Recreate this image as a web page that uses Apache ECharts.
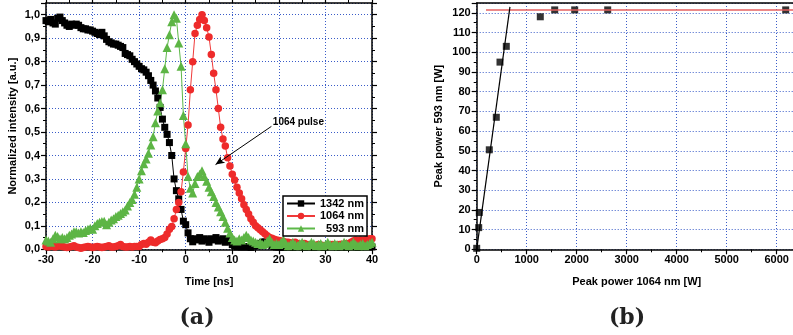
<!DOCTYPE html>
<html><head><meta charset="utf-8">
<script src="https://cdn.jsdelivr.net/npm/echarts@6/dist/echarts.min.js"></script>
<style>html,body{margin:0;padding:0;background:#fff}#c{width:793px;height:335px}</style>
</head><body><div id="c"></div>
<script>
// ---- Panel (a): normalized intensity vs time ----
const time = [-30,-29.5,-29,-28.5,-28,-27.5,-27,-26.5,-26,-25.5,-25,-24.5,-24,-23.5,-23,-22.5,-22,-21.5,-21,-20.5,-20,-19.5,-19,-18.5,-18,-17.5,-17,-16.5,-16,-15.5,-15,-14.5,-14,-13.5,-13,-12.5,-12,-11.5,-11,-10.5,-10,-9.5,-9,-8.5,-8,-7.5,-7,-6.5,-6,-5.5,-5,-4.5,-4,-3.5,-3,-2.5,-2,-1.5,-1,-0.5,0,0.5,1,1.5,2,2.5,3,3.5,4,4.5,5,5.5,6,6.5,7,7.5,8,8.5,9,9.5,10,10.5,11,11.5,12,12.5,13,13.5,14,14.5,15,15.5,16,16.5,17,17.5,18,18.5,19,19.5,20,20.5,21,21.5,22,22.5,23,23.5,24,24.5,25,25.5,26,26.5,27,27.5,28,28.5,29,29.5,30,30.5,31,31.5,32,32.5,33,33.5,34,34.5,35,35.5,36,36.5,37,37.5,38,38.5,39,39.5,40];

const black1342 = [0.975,0.97,0.98,0.965,0.96,0.985,0.99,0.975,0.965,0.955,
0.95,0.96,0.955,0.96,0.955,0.945,0.94,0.94,0.935,0.935,
0.93,0.925,0.92,0.915,0.925,0.91,0.895,0.885,0.88,0.875,
0.875,0.87,0.865,0.86,0.835,0.83,0.825,0.81,0.8,0.79,
0.78,
0.77,0.765,0.755,0.74,0.72,0.7,0.675,0.645,0.605,0.555,0.52,0.49,0.455,0.40,0.30,0.25,0.215,0.17,0.12,0.105,
0.07,0.045,0.032,0.045,0.04,0.05,0.035,0.045,0.04,0.03,0.045,0.04,0.05,0.035,0.04,0.045,0.03,0.04,0.035,0.02,
0.015,0.01,0.012,0.01,0.01,0.012,0.01,0.008,0.015,0.02,0.015,0.025,0.03,0.032,0.025,0.02,0.015,0.012,0.01,0.01,
0.012,0.008,0.01,0.015,0.01,0.008,0.012,0.01,0.015,0.01,
0.008,0.01,0.012,0.01,0.008,0.012,0.015,0.01,0.008,0.01,
0.012,0.01,0.015,0.012,0.008,0.01,0.012,0.01,0.008,0.012,
0.015,0.01,0.012,0.008,0.01,0.012,0.01,0.015,0.012,0.01];

const red1064 = [0.012,0.01,0.015,0.012,0.01,0.013,0.015,0.012,0.01,0.008,
0.01,0.012,0.015,0.01,0.008,0.005,0.008,0.01,0.012,0.01,
0.008,0.01,0.012,0.01,0.008,0.01,0.012,0.015,0.01,0.01,
0.012,0.015,0.02,0.012,0.01,0.01,0.012,0.01,0.012,0.012,
0.012,
0.02,0.025,0.022,0.03,0.04,0.03,0.028,0.035,0.042,0.045,0.05,0.065,0.085,0.097,0.13,0.17,0.2,0.245,0.33,0.43,
0.53,0.68,0.8,0.92,0.955,0.98,1.0,0.975,0.945,0.905,0.83,0.75,0.68,0.6,0.52,0.47,0.44,0.39,0.355,0.32,
0.295,0.265,0.24,0.215,0.19,0.17,0.15,0.13,0.115,0.1,
0.092,0.083,0.075,0.066,0.058,0.05,0.047,0.043,0.04,0.037,
0.035,0.033,0.03,0.03,0.028,0.025,0.03,0.025,0.022,0.02,
0.025,0.02,0.018,0.02,0.018,0.015,0.02,0.018,0.015,0.015,
0.018,0.015,0.02,0.015,0.018,0.02,0.022,0.02,0.025,0.022,
0.03,0.035,0.04,0.035,0.04,0.038,0.04,0.042,0.045,0.045];

const green593 = [0.04,0.035,0.03,0.045,0.06,0.055,0.045,0.05,0.045,0.05,
0.06,0.065,0.075,0.075,0.07,0.075,0.072,0.08,0.085,0.09,
0.085,0.1,0.11,0.115,0.118,0.12,0.105,0.115,0.125,0.13,
0.14,0.145,0.153,0.16,0.168,0.185,0.2,0.212,0.235,0.265,
0.3,
0.335,0.365,0.385,0.41,0.445,0.48,0.54,0.59,0.625,0.68,0.77,0.86,0.915,0.97,1.0,0.985,0.88,0.78,0.57,0.45,
0.31,0.26,0.24,0.28,0.31,0.32,0.335,0.31,0.29,0.265,0.245,0.225,0.2,0.18,0.16,0.14,0.115,0.09,0.07,0.05,
0.04,0.035,0.045,0.04,0.05,0.06,0.05,0.04,0.035,0.03,
0.025,0.03,0.02,0.025,0.035,0.045,0.03,0.02,0.025,0.02,
0.03,0.04,0.025,0.015,0.02,0.03,0.02,0.015,0.025,0.03,
0.02,0.015,0.02,0.03,0.025,0.015,0.02,0.025,0.015,0.02,
0.03,0.02,0.015,0.025,0.02,0.015,0.02,0.03,0.025,0.015,
0.02,0.03,0.02,0.015,0.02,0.025,0.015,0.02,0.025,0.03];

const seriesNames = ['1342 nm', '1064 nm', '593 nm'];

// annotation arrow (data coords): from label to pulse
const arrowFrom = [18.4, 0.524];
const arrowTo = [6.4, 0.361];
const arrowLabelAt = [24.2, 0.54];

// ---- Panel (b): peak power ----
const peak1064 = [0, 40, 52, 252, 392, 466, 592, 1272, 1560, 1960, 2620, 6180];
const peak593 = [0.5, 11, 18.7, 50.5, 67, 95, 103, 118, 121.5, 121.5, 121.5, 121.5];
const fitX = [0, 665];
const fitY = [0, 123];
const satX = [186, 6400];
const satY = [121.5, 121.5];

const FONT = 'Liberation Sans';
const gridLine = {show: true, lineStyle: {color: '#3a5cc8', type: [1, 2], width: 1}};

function axis(o) {
  return Object.assign({
    type: 'value',
    axisLine: {show: true, onZero: false, lineStyle: {color: '#000', width: 1.5}},
    axisTick: {show: true, inside: false, length: 5, lineStyle: {color: '#000', width: 1.2}},
    minorTick: {show: true, splitNumber: 2, length: 3, lineStyle: {color: '#000', width: 1}},
    axisLabel: {color: '#000', fontFamily: FONT, fontWeight: 'bold', fontSize: 11, margin: 5},
    splitLine: {show: false},
    nameTextStyle: {color: '#000', fontFamily: FONT, fontWeight: 'bold', fontSize: 11}
  }, o);
}
const comma = v => v.toFixed(1).replace('.', ',');
const plain = v => String(Math.round(v));

const chart = echarts.init(document.getElementById('c'), null, {renderer: 'canvas'});
chart.setOption({
  animation: false,
  backgroundColor: '#fff',
  grid: [
    {left: 46, top: 3, width: 326, height: 246.3, outerBoundsMode: 'none'},
    {left: 476.7, top: 3, width: 320, height: 246.3, outerBoundsMode: 'none'}
  ],
  xAxis: [
    axis({gridIndex: 0, min: -30, max: 40, interval: 10, splitLine: gridLine,
      axisLabel: {color: '#000', fontFamily: FONT, fontWeight: 'bold', fontSize: 11, margin: 5, formatter: plain},
      name: 'Time [ns]', nameLocation: 'middle', nameGap: 27}),
    axis({gridIndex: 0, position: 'top', min: -30, max: 40, interval: 10, axisLabel: {show: false}}),
    axis({gridIndex: 1, min: 0, max: 6400, interval: 1000, splitLine: gridLine,
      axisLabel: {color: '#000', fontFamily: FONT, fontWeight: 'bold', fontSize: 11, margin: 5, showMaxLabel: false, formatter: plain},
      name: 'Peak power 1064 nm [W]', nameLocation: 'middle', nameGap: 27}),
    axis({gridIndex: 1, position: 'top', min: 0, max: 6400, interval: 1000, axisLabel: {show: false}, axisTick: {show: false}, minorTick: {show: false}})
  ],
  yAxis: [
    axis({gridIndex: 0, min: 0, max: 1.05, interval: 0.1, splitLine: gridLine,
      axisLabel: {color: '#000', fontFamily: FONT, fontWeight: 'bold', fontSize: 11, margin: 6, showMaxLabel: false, formatter: comma},
      name: 'Normalized intensity [a.u.]', nameLocation: 'middle', nameGap: 28}),
    axis({gridIndex: 0, position: 'right', min: 0, max: 1.05, interval: 0.1, axisLabel: {show: false}}),
    axis({gridIndex: 1, min: 0, max: 125, interval: 10, splitLine: gridLine,
      axisLabel: {color: '#000', fontFamily: FONT, fontWeight: 'bold', fontSize: 11, margin: 6, showMaxLabel: false, formatter: plain},
      name: 'Peak power 593 nm [W]', nameLocation: 'middle', nameGap: 32})
  ],
  legend: {
    orient: 'vertical', left: 283, top: 196,
    padding: [2, 3, 2, 3], itemGap: 1.5, itemWidth: 28, itemHeight: 8,
    backgroundColor: '#fff', borderColor: '#000', borderWidth: 1.5, borderRadius: 0,
    textStyle: {fontFamily: FONT, fontWeight: 'bold', fontSize: 11, color: '#000'},
    data: seriesNames,
    formatter: n => (n === '593 nm' ? '  ' + n : n)
  },
  series: [
    {type: 'line', name: seriesNames[0], xAxisIndex: 0, yAxisIndex: 0,
      data: time.map((t, i) => [t, black1342[i]]),
      symbol: 'rect', symbolSize: 7, showAllSymbol: true,
      lineStyle: {color: '#000', width: 1}, itemStyle: {color: '#000'}},
    {type: 'line', name: seriesNames[1], xAxisIndex: 0, yAxisIndex: 0,
      data: time.map((t, i) => [t, red1064[i]]),
      symbol: 'circle', symbolSize: 7.5, showAllSymbol: true,
      lineStyle: {color: '#ef3a3a', width: 1}, itemStyle: {color: '#ee2b2b'}},
    {type: 'line', name: seriesNames[2], xAxisIndex: 0, yAxisIndex: 0,
      data: time.map((t, i) => [t, green593[i]]),
      symbol: 'triangle', symbolSize: 9, showAllSymbol: true,
      lineStyle: {color: '#5cb848', width: 1}, itemStyle: {color: '#5db545'},
      markLine: {silent: true, symbol: ['none', 'arrow'], symbolSize: [6, 9],
        label: {show: false}, lineStyle: {color: '#000', width: 1, type: 'solid'},
        emphasis: {disabled: true},
        data: [[{coord: arrowFrom}, {coord: arrowTo}]]},
      markPoint: {silent: true, symbol: 'circle', symbolSize: 1,
        itemStyle: {color: 'rgba(0,0,0,0)'},
        label: {show: true, position: 'inside', formatter: '1064 pulse', color: '#000',
          fontFamily: FONT, fontWeight: 'bold', fontSize: 10},
        data: [{coord: arrowLabelAt}]}
    },
    {type: 'line', name: 'saturation', xAxisIndex: 2, yAxisIndex: 2,
      data: satX.map((x, i) => [x, satY[i]]), showSymbol: false,
      lineStyle: {color: '#e46060', width: 1.5}},
    {type: 'line', name: 'fit', xAxisIndex: 2, yAxisIndex: 2,
      data: fitX.map((x, i) => [x, fitY[i]]), showSymbol: false,
      lineStyle: {color: '#000', width: 1.2}},
    {type: 'scatter', name: 'peak', xAxisIndex: 2, yAxisIndex: 2,
      data: peak1064.map((x, i) => [x, peak593[i]]),
      symbol: 'rect', symbolSize: 7, itemStyle: {color: '#000'}}
  ],
  graphic: [
    {type: 'text', x: 197, y: 318, style: {text: '(a)', font: 'bold 22px "DejaVu Serif"', fill: '#222', textAlign: 'center', textVerticalAlign: 'middle'}},
    {type: 'text', x: 627, y: 318, style: {text: '(b)', font: 'bold 22px "DejaVu Serif"', fill: '#222', textAlign: 'center', textVerticalAlign: 'middle'}}
  ]
});
</script></body></html>
